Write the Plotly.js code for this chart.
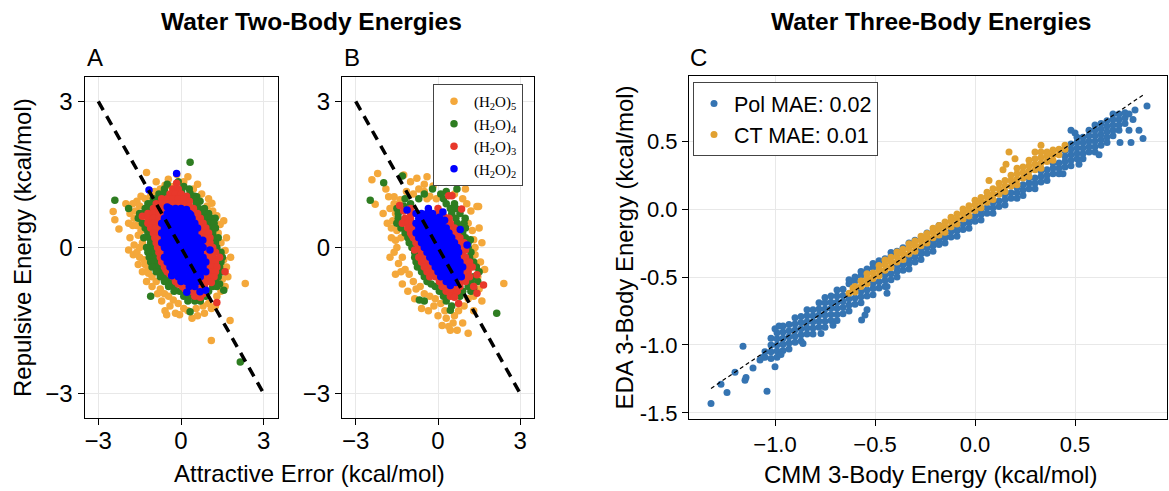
<!DOCTYPE html>
<html><head><meta charset="utf-8">
<script src="https://cdn.plot.ly/plotly-3.0.1.min.js"></script>
<style>html,body{margin:0;padding:0;background:#fff}#plot{width:1169px;height:491px}</style>
</head><body><div id="plot"></div>
<script>
// ---------- Panel A: (H2O)n two-body, points [attractive error, repulsive energy] ----------
const A2 = [
[-0.4,0.8],[-0.2,0.8],[0,0.8],[0.2,0.78],
[-0.5,0.7],[-0.3,0.7],[-0.1,0.7],[0.1,0.7],[0.3,0.7],
[-0.6,0.6],[-0.4,0.6],[-0.2,0.6],[0,0.6],[0.2,0.6],[0.4,0.6],
[-0.7,0.5],[-0.5,0.5],[-0.3,0.5],[-0.1,0.5],[0.1,0.5],[0.3,0.5],[0.5,0.5],
[-0.6,0.4],[-0.4,0.4],[-0.2,0.4],[0,0.4],[0.2,0.4],[0.4,0.4],[0.6,0.4],
[-0.7,0.3],[-0.5,0.3],[-0.3,0.3],[-0.1,0.3],[0.1,0.3],[0.3,0.3],[0.5,0.3],
[-0.6,0.2],[-0.4,0.2],[-0.2,0.2],[0,0.2],[0.2,0.2],[0.4,0.2],[0.6,0.2],
[-0.7,0.1],[-0.5,0.1],[-0.3,0.1],[-0.1,0.1],[0.1,0.1],[0.3,0.1],[0.5,0.1],[0.7,0.1],
[-0.6,0],[-0.4,0],[-0.2,0],[0,0],[0.2,0],[0.4,0],[0.6,0],[0.8,0],
[-0.5,-0.1],[-0.3,-0.1],[-0.1,-0.1],[0.1,-0.1],[0.3,-0.1],[0.5,-0.1],[0.7,-0.1],
[-0.6,-0.2],[-0.4,-0.2],[-0.2,-0.2],[0,-0.2],[0.2,-0.2],[0.4,-0.2],[0.6,-0.2],[0.8,-0.2],
[-0.5,-0.3],[-0.3,-0.3],[-0.1,-0.3],[0.1,-0.3],[0.3,-0.3],[0.5,-0.3],[0.7,-0.3],[0.9,-0.3],
[-0.4,-0.4],[-0.2,-0.4],[0,-0.4],[0.2,-0.4],[0.4,-0.4],[0.6,-0.4],[0.8,-0.4],
[-0.3,-0.5],[-0.1,-0.5],[0.1,-0.5],[0.3,-0.5],[0.5,-0.5],[0.7,-0.5],[0.9,-0.5],
[-0.1,-0.6],[0.1,-0.6],[0.3,-0.6],[0.5,-0.6],[0.7,-0.6],
[0,-0.7],[0.2,-0.7],[0.4,-0.7],[0.6,-0.7],
[0.3,-0.8],[0.5,-0.8],
[-0.16,1.52],[-1.16,1.18],[-0.5,0.83],[0.35,0.67],[0.79,0.15],[1.05,-0.05],[-0.34,-0.58],[0.21,-0.92],[0.69,-0.91],[0.9,-0.88]
];
const A3 = [
[-0.16,1.32],[-0.3,1.2],[-0.1,1.2],
[-0.4,1.1],[-0.2,1.1],[0,1.1],[0.2,1.05],
[-0.7,1.0],[-0.5,1.0],[-0.3,1.0],[-0.1,1.0],[0.1,1.0],[0.3,0.95],
[-0.9,0.9],[-0.7,0.9],[-0.5,0.9],[-0.3,0.9],[-0.1,0.9],[0.1,0.9],[0.3,0.85],
[-1.0,0.8],[-0.8,0.8],[-0.6,0.8],[0.3,0.8],[0.45,0.8],
[-1.2,0.7],[-1.0,0.7],[-0.8,0.7],[-0.65,0.7],[0.45,0.7],[0.6,0.7],
[-1.4,0.64],[-1.2,0.6],[-1.0,0.6],[-0.8,0.6],[0.55,0.6],[0.7,0.6],
[-1.2,0.5],[-1.0,0.5],[-0.85,0.5],[0.65,0.5],[0.8,0.5],
[-1.1,0.4],[-0.9,0.4],[-0.75,0.4],[0.75,0.4],[0.9,0.4],
[-1.0,0.3],[-0.85,0.3],[0.65,0.3],[0.85,0.3],[1.0,0.3],
[-0.95,0.2],[-0.8,0.2],[0.75,0.2],[0.9,0.2],[1.05,0.2],
[-0.9,0.1],[0.85,0.1],[1.05,0.1],
[-0.85,0.0],[-0.75,0.0],[0.95,0.0],[1.15,0.0],
[-0.8,-0.1],[-0.65,-0.1],[0.85,-0.1],[1.05,-0.1],[1.25,-0.1],
[-0.75,-0.2],[0.95,-0.2],[1.15,-0.2],[1.4,-0.2],
[-0.7,-0.3],[1.05,-0.3],[1.25,-0.3],
[-0.6,-0.4],[-0.55,-0.45],[0.95,-0.4],[1.15,-0.4],[1.3,-0.4],
[-0.5,-0.5],[-0.4,-0.55],[1.05,-0.5],[1.25,-0.5],[1.6,-0.5],
[-0.3,-0.6],[0.85,-0.6],[1.05,-0.6],[1.2,-0.6],
[-0.2,-0.7],[-0.1,-0.75],[0.75,-0.7],[0.95,-0.7],[1.1,-0.72],
[0.05,-0.8],[0.15,-0.85],[0.65,-0.8],[0.85,-0.8],
[0.25,-0.9],[0.4,-0.9],[0.6,-0.92],[0.8,-0.95],
[0.5,-1.0],[0.7,-1.02],[1.3,-1.13]
];
const A4 = [
[0.33,1.75],[-0.1,1.35],[-0.5,1.3],[0.1,1.25],
[-0.6,1.2],[0.3,1.2],[0.02,1.15],
[-0.8,1.1],[-0.6,1.1],[0.33,1.11],[0.5,1.05],
[-1.0,1.0],[-0.85,1.0],[0.57,1.04],[0.45,1.0],
[-2.4,0.97],[0.69,0.95],[-1.2,0.9],[-1.1,0.9],[0.55,0.9],
[-1.9,0.8],[-1.3,0.8],[-1.2,0.8],[0.65,0.8],[0.85,0.8],
[-1.5,0.7],[-1.4,0.7],[0.8,0.7],[1.0,0.7],
[-1.55,0.6],[0.9,0.6],[1.1,0.6],[1.24,0.6],
[-1.4,0.5],[-1.3,0.48],[1.0,0.5],[1.2,0.5],
[-1.3,0.4],[-1.2,0.35],[1.05,0.4],[1.25,0.4],
[-1.2,0.3],[1.15,0.3],
[-1.15,0.2],[-1.35,0.2],[1.2,0.2],[1.35,0.2],
[-1.1,0.1],[1.25,0.1],
[-1.05,0.0],[-1.25,0.0],[1.3,0.0],
[-1.0,-0.1],[-1.2,-0.1],[1.45,-0.1],
[-0.95,-0.2],[-1.15,-0.2],[1.5,-0.2],[1.3,-0.25],
[-0.9,-0.3],[-1.1,-0.3],[1.45,-0.3],
[-0.85,-0.4],[-1.05,-0.4],[1.4,-0.4],
[-0.7,-0.5],[-0.9,-0.5],[1.5,-0.5],
[-0.55,-0.6],[-0.75,-0.6],[1.35,-0.6],
[-0.4,-0.7],[-0.6,-0.7],[1.25,-0.7],[1.4,-0.75],
[-0.25,-0.8],[-0.45,-0.8],[1.15,-0.8],[1.3,-0.8],
[-0.05,-0.9],[-0.25,-0.9],[1.0,-0.9],[1.55,-0.88],
[0.1,-1.0],[0.3,-1.0],[0.9,-1.0],[-1.1,-1.0],
[0.25,-1.1],[0.5,-1.1],[0.7,-1.1],
[0.33,-1.32],[2.15,-2.35]
];
const A5 = [
[-1.25,1.54],[-0.46,1.4],[-0.58,1.28],[-0.35,1.25],[-0.75,1.2],[-0.95,1.15],[0.1,1.35],[0.25,1.45],[0.45,1.2],[0.75,1.1],[1.12,0.91],[0.95,0.85],
[-1.1,1.05],[-1.3,1.0],[-1.45,1.05],[-1.6,0.95],[-1.75,0.9],[-1.5,0.85],[-1.65,0.75],[-1.85,0.7],[-2.46,0.74],[-2.4,0.57],[-2.25,0.38],
[-1.7,0.6],[-1.6,0.45],[-1.75,0.45],[-1.45,0.35],[-1.55,0.25],[-1.4,0.1],[-1.5,0.0],[-1.7,0.05],[-1.73,-0.15],[-1.6,-0.1],[-1.5,-0.2],
[-1.35,-0.25],[-1.3,-0.35],[-1.2,-0.45],[-1.18,-0.53],[-1.05,-0.6],[-0.9,-0.7],[-0.75,-0.85],[-0.6,-0.95],[-0.45,-1.0],[-0.28,-1.08],
[-0.1,-1.15],[0.1,-1.25],[-0.2,-1.35],[-0.58,-1.3],[-0.52,-1.38],[0.4,-1.45],[0.55,-1.25],[0.8,-1.2],[1.0,-1.15],[1.1,-1.25],
[1.3,-1.0],[1.45,-0.9],[1.5,-0.65],[1.65,-0.4],[1.55,-0.25],[1.6,-0.06],[1.45,0.1],[1.35,0.3],[1.42,0.47],[1.3,0.65],[1.15,0.75],
[2.33,-0.74],[1.78,-1.5],[1.1,-1.91],
[-1.55,-0.35],[-1.4,-0.5],[-1.25,-0.7],[-1.05,-0.8],[-0.85,-0.95],[-0.7,-1.1],[-0.4,-1.2],[-0.05,-1.38],[0.25,-1.3],[0.6,-1.4],
[0.85,-1.35],[1.25,-1.2],[1.6,-0.8],[1.7,-0.6],[1.8,-0.2],[1.65,0.2],[1.55,0.55],[1.0,1.0],[0.6,1.3],[-0.15,1.5],[-0.9,1.35],
[-1.9,0.5],[-1.85,0.2],[-1.9,-0.05],[-1.45,0.6],[-2.0,0.9],[-1.35,0.45]
];
// ---------- Panel B ----------
const B2 = [
[-0.35,0.8],[0.18,0.73],[-1.13,0.77],[0.24,0.56],[0.81,0.37],[1.06,0.05],
[-0.8,0.7],[-0.6,0.7],[-0.4,0.7],[-0.2,0.7],
[-0.7,0.6],[-0.5,0.6],[-0.3,0.6],[-0.1,0.6],[0.05,0.62],
[-0.8,0.5],[-0.6,0.5],[-0.4,0.5],[-0.2,0.5],[0,0.5],[0.15,0.5],
[-0.7,0.4],[-0.5,0.4],[-0.3,0.4],[-0.1,0.4],[0.1,0.4],[0.3,0.4],
[-0.8,0.3],[-0.6,0.3],[-0.4,0.3],[-0.2,0.3],[0,0.3],[0.2,0.3],[0.4,0.3],
[-0.7,0.2],[-0.5,0.2],[-0.3,0.2],[-0.1,0.2],[0.1,0.2],[0.3,0.2],[0.5,0.2],
[-0.6,0.1],[-0.4,0.1],[-0.2,0.1],[0,0.1],[0.2,0.1],[0.4,0.1],[0.6,0.1],
[-0.5,0],[-0.3,0],[-0.1,0],[0.1,0],[0.3,0],[0.5,0],[0.7,0],
[-0.4,-0.1],[-0.2,-0.1],[0,-0.1],[0.2,-0.1],[0.4,-0.1],[0.6,-0.1],[0.75,-0.1],
[-0.3,-0.2],[-0.1,-0.2],[0.1,-0.2],[0.3,-0.2],[0.5,-0.2],[0.7,-0.2],
[-0.2,-0.3],[0,-0.3],[0.2,-0.3],[0.4,-0.3],[0.6,-0.3],[0.8,-0.3],
[-0.1,-0.4],[0.1,-0.4],[0.3,-0.4],[0.5,-0.4],[0.7,-0.4],[0.9,-0.4],
[0,-0.5],[0.2,-0.5],[0.4,-0.5],[0.6,-0.5],[0.8,-0.5],
[0.1,-0.6],[0.3,-0.6],[0.5,-0.6],[0.7,-0.6],[0.85,-0.6],
[0.3,-0.7],[0.5,-0.7],[0.65,-0.72],[0.45,-0.78]
];
const B3 = [
[0.39,1.06],[0.51,1.06],[-1.4,0.86],[0.86,0.79],
[-1.0,0.8],[0.0,0.8],[-1.25,0.75],
[-1.0,0.7],[0.0,0.7],[0.15,0.68],
[-1.2,0.6],[-1.0,0.6],[0.25,0.62],[0.4,0.6],
[-1.3,0.5],[-1.1,0.5],[-0.95,0.5],[0.3,0.5],[0.45,0.5],
[-1.1,0.4],[-0.9,0.4],[0.45,0.4],[0.6,0.4],
[-1.0,0.3],[-0.95,0.25],[0.55,0.3],[0.7,0.3],
[-0.9,0.2],[0.65,0.2],[0.8,0.2],
[-0.8,0.1],[0.75,0.1],[0.95,0.1],
[-0.7,0.0],[0.85,0.0],[-0.85,-0.05],
[-0.6,-0.1],[0.9,-0.1],[1.0,-0.05],
[-0.5,-0.2],[-0.7,-0.2],[0.85,-0.2],[1.0,-0.2],
[-0.4,-0.3],[-0.6,-0.3],[0.95,-0.3],[1.15,-0.3],
[-0.3,-0.4],[-0.5,-0.4],[1.05,-0.4],[1.25,-0.4],
[-0.2,-0.5],[-0.4,-0.5],[0.95,-0.5],[1.1,-0.5],[1.42,-0.56],
[-0.1,-0.6],[-0.3,-0.6],[0.95,-0.6],[1.15,-0.6],
[0.05,-0.7],[0.15,-0.72],[0.8,-0.7],[1.0,-0.7],[1.66,-0.77],
[0.15,-0.8],[0.3,-0.82],[0.6,-0.8],[0.8,-0.8],[1.3,-0.8],
[0.3,-0.9],[0.5,-0.9],[0.7,-0.9],[1.42,-0.94],
[0.45,-1.0],[0.6,-1.02],[0.75,-1.15]
];
const B4 = [
[-2.47,0.97],[-1.98,1.33],[-1.3,1.47],[0.02,1.37],[0.69,1.2],[0.99,0.6],[1.18,0.16],[2.14,-1.35],[-0.68,-1.08],[0.45,-1.29],[1.3,-0.84],
[-0.2,1.2],[0.3,1.15],[-0.5,1.1],[0.1,1.1],
[-1.2,1.0],[-0.7,1.0],[0.2,1.0],
[-1.0,0.9],[0.3,0.9],[0.6,0.9],
[-1.5,0.8],[-1.25,0.85],[0.45,0.8],[0.65,0.8],
[-1.45,0.7],[0.5,0.7],[0.8,0.7],
[-1.45,0.6],[0.65,0.6],
[-1.5,0.5],[0.7,0.5],[0.95,0.5],
[-1.35,0.4],[0.8,0.4],[1.0,0.4],
[-1.2,0.3],[0.9,0.3],
[-1.1,0.2],[1.0,0.2],
[-1.05,0.1],[1.1,0.1],
[-0.95,0.0],[1.1,0.0],
[-0.85,-0.1],[1.2,-0.1],
[-0.85,-0.2],[1.15,-0.2],
[-0.8,-0.3],[1.3,-0.3],
[-0.75,-0.4],[1.4,-0.4],
[-0.6,-0.5],[1.5,-0.5],
[-0.5,-0.6],[1.3,-0.6],
[-0.4,-0.7],[-0.25,-0.75],[1.2,-0.7],[1.45,-0.7],
[-0.1,-0.8],[1.1,-0.8],
[0.05,-0.9],[0.9,-0.9],[1.2,-0.9],
[0.2,-1.0],[0.6,-1.0],[0.8,-1.0],
[0.3,-1.1],[-0.5,-1.1],[0.5,-1.2]
];
const B5 = [
[0.02,1.76],[-2.2,1.52],[-2.41,1.39],[-1.25,1.49],[-0.77,1.42],[-0.18,1.26],[-0.5,1.3],[-1.0,1.35],
[1.48,0.84],[-2.29,0.89],[-1.8,1.04],[-1.6,1.04],[-1.38,0.98],[-0.7,1.2],[-0.5,1.15],[-0.3,1.05],[-0.06,1.0],[-0.4,1.0],[-0.9,1.1],[-1.15,1.15],
[-1.6,0.9],[-1.75,0.8],[-1.55,0.7],[-1.65,0.55],[-1.7,0.4],[-1.5,0.35],[-1.55,0.15],[-1.35,0.2],[-1.5,0.0],[-1.6,-0.1],[-1.44,-0.33],
[-1.3,-0.2],[-1.35,-0.5],[-1.2,-0.45],[-1.05,-0.55],[-0.9,-0.7],[-0.8,-0.85],[-0.65,-0.8],[-0.5,-0.95],[-0.3,-1.0],[-0.1,-1.05],
[0.1,-1.15],[-0.15,-1.2],[0.25,-1.3],[0.3,-1.45],[0.45,-1.7],[0.39,-1.62],[0.55,-1.55],[0.7,-1.7],[0.9,-1.55],[1.1,-1.76],
[0.6,-1.4],[0.75,-1.3],[0.95,-1.2],[1.1,-1.05],[1.3,-1.0],[1.5,-0.85],[2.4,-0.74],[1.45,-0.6],[1.55,-0.3],[1.35,-0.15],
[1.35,0.0],[1.3,0.16],[1.25,0.35],[1.1,0.5],[1.2,0.75],[1.42,0.84],[0.9,1.0],[1.05,0.9],[0.6,1.1],
[-1.7,0.2],[-1.75,-0.2],[-1.55,-0.55],[-1.3,-0.75],[-1.1,-0.9],[-0.85,-1.05],[-0.6,-1.25],[-0.35,-1.3],[0.0,-1.4],[0.15,-1.6],
[1.3,-1.3],[1.6,-1.1],[1.7,-0.45],[1.6,0.1],[1.5,0.4],[1.0,1.2],[0.3,1.4],[-0.4,1.45],[-1.9,1.2],[-2.0,0.7],[-1.85,0.5]
];
// ---------- Panel C: [CMM 3-body, EDA 3-body] ----------
const POL = [
[-1.05,-1.09],[-1.05,-1.05],
[-1.02,-1.10],[-1.02,-1.05],[-1.02,-1.00],[-1.02,-0.95],
[-0.99,-1.09],[-0.99,-1.045],[-0.99,-1.00],[-0.99,-0.955],[-0.99,-0.91],
[-0.96,-1.04],[-0.96,-0.995],[-0.96,-0.95],[-0.96,-0.905],[-0.96,-0.86],
[-0.93,-1.03],[-0.93,-0.985],[-0.93,-0.94],[-0.93,-0.895],[-0.93,-0.85],
[-0.90,-0.98],[-0.90,-0.935],[-0.90,-0.89],[-0.90,-0.845],[-0.90,-0.80],
[-0.87,-0.97],[-0.87,-0.925],[-0.87,-0.88],[-0.87,-0.835],[-0.87,-0.79],
[-0.84,-0.92],[-0.84,-0.875],[-0.84,-0.83],[-0.84,-0.785],[-0.84,-0.74],
[-0.81,-0.92],[-0.81,-0.875],[-0.81,-0.83],[-0.81,-0.785],[-0.81,-0.74],
[-0.78,-0.87],[-0.78,-0.825],[-0.78,-0.78],[-0.78,-0.735],[-0.78,-0.69],
[-0.75,-0.87],[-0.75,-0.825],[-0.75,-0.78],[-0.75,-0.735],[-0.75,-0.69],[-0.75,-0.65],
[-0.72,-0.82],[-0.72,-0.775],[-0.72,-0.73],[-0.72,-0.685],[-0.72,-0.64],
[-0.69,-0.82],[-0.69,-0.775],[-0.69,-0.73],[-0.69,-0.685],[-0.69,-0.64],[-0.69,-0.595],
[-0.66,-0.77],[-0.66,-0.725],[-0.66,-0.68],[-0.66,-0.635],[-0.66,-0.59],
[-0.63,-0.75],[-0.63,-0.705],[-0.63,-0.66],[-0.63,-0.55],[-0.63,-0.52],
[-0.60,-0.70],[-0.60,-0.655],[-0.60,-0.53],[-0.60,-0.50],
[-0.57,-0.69],[-0.57,-0.645],[-0.57,-0.605],[-0.57,-0.49],[-0.57,-0.46],
[-0.54,-0.64],[-0.54,-0.595],[-0.54,-0.47],[-0.54,-0.44],
[-0.51,-0.63],[-0.51,-0.585],[-0.51,-0.545],[-0.51,-0.43],[-0.51,-0.40],
[-0.48,-0.58],[-0.48,-0.535],[-0.48,-0.41],[-0.48,-0.38],
[-0.45,-0.57],[-0.45,-0.525],[-0.45,-0.485],[-0.45,-0.365],
[-0.42,-0.52],[-0.42,-0.475],[-0.42,-0.345],[-0.42,-0.32],
[-0.39,-0.50],[-0.39,-0.46],[-0.39,-0.425],[-0.39,-0.31],
[-0.36,-0.45],[-0.36,-0.41],[-0.36,-0.285],
[-0.33,-0.44],[-0.33,-0.40],[-0.33,-0.365],[-0.33,-0.25],
[-0.30,-0.39],[-0.30,-0.35],[-0.30,-0.23],
[-0.27,-0.37],[-0.27,-0.33],[-0.27,-0.30],
[-0.24,-0.325],[-0.24,-0.285],[-0.24,-0.175],
[-0.21,-0.31],[-0.21,-0.27],[-0.21,-0.24],
[-0.18,-0.26],[-0.18,-0.225],[-0.18,-0.12],
[-0.15,-0.25],[-0.15,-0.21],[-0.15,-0.18],
[-0.12,-0.205],[-0.12,-0.165],
[-0.09,-0.20],[-0.09,-0.16],[-0.09,-0.125],
[-0.06,-0.15],[-0.06,-0.11],
[-0.03,-0.14],[-0.03,-0.10],[-0.03,-0.065],
[0.00,-0.09],[0.00,-0.05],
[0.03,-0.08],[0.03,-0.04],[0.03,-0.005],
[0.06,-0.03],[0.06,0.01],
[0.09,-0.03],[0.09,0.01],[0.09,0.05],
[0.12,0.02],[0.12,0.06],
[0.15,0.03],[0.15,0.07],[0.15,0.11],
[0.18,0.08],[0.18,0.12],
[0.21,0.08],[0.21,0.12],[0.21,0.16],
[0.24,0.10],[0.24,0.14],[0.24,0.18],
[0.27,0.15],[0.27,0.19],[0.27,0.23],
[0.30,0.15],[0.30,0.19],[0.30,0.23],
[0.33,0.20],[0.33,0.24],[0.33,0.28],
[0.36,0.21],[0.36,0.25],[0.36,0.29],
[0.39,0.26],[0.39,0.30],[0.39,0.34],
[0.42,0.26],[0.42,0.30],[0.42,0.34],
[0.45,0.31],[0.45,0.35],[0.45,0.39],[0.45,0.43],
[0.48,0.32],[0.48,0.36],[0.48,0.40],[0.48,0.44],[0.48,0.48],
[0.51,0.37],[0.51,0.41],[0.51,0.45],[0.51,0.49],[0.51,0.53],
[0.54,0.37],[0.54,0.41],[0.54,0.45],[0.54,0.49],[0.54,0.53],
[0.57,0.42],[0.57,0.46],[0.57,0.50],[0.57,0.54],[0.57,0.58],
[0.60,0.42],[0.60,0.46],[0.60,0.50],[0.60,0.54],[0.60,0.58],[0.60,0.62],
[0.63,0.47],[0.63,0.51],[0.63,0.55],[0.63,0.59],[0.63,0.63],
[0.66,0.49],[0.66,0.53],[0.66,0.57],[0.66,0.61],[0.66,0.65],
[0.69,0.54],[0.69,0.58],[0.69,0.62],[0.69,0.66],[0.69,0.70],
[0.72,0.58],[0.72,0.62],[0.72,0.66],[0.72,0.70],
[0.75,0.63],[0.75,0.67],[0.75,0.71],
[-1.32,-1.43],[-1.24,-1.35],[-1.15,-1.26],[-1.04,-1.34],[-1.16,-1.01],[-1.145,-1.24],[-1.11,-1.17],[-1.075,-1.11],[-1.06,-1.09],
[-1.0,-1.16],[-0.97,-1.07],[-1.0,-0.88],[-0.98,-0.86],[-0.86,-0.99],[-0.77,-0.915],[-0.71,-0.855],[-0.567,-0.816],[-0.54,-0.74],
[-0.55,-0.78],[-0.44,-0.57],[-0.44,-0.62],[0.77,0.58],[0.82,0.58],[0.84,0.52],[0.78,0.49],[0.86,0.76],[0.725,0.49],[0.79,0.66],
[0.77,0.7],[0.8,0.73],[0.48,0.58],[0.5,0.56],[0.62,0.4],[0.52,0.33],[0.44,0.26],[-1.2,-1.2],[-1.27,-1.29]
];
const CT = [
[-0.63,-0.62],[-0.61,-0.58],[-0.60,-0.61],[-0.60,-0.57],[-0.57,-0.57],[-0.57,-0.53],
[-0.54,-0.55],[-0.54,-0.51],[-0.54,-0.475],[-0.51,-0.51],[-0.51,-0.47],
[-0.48,-0.49],[-0.48,-0.45],[-0.48,-0.415],[-0.45,-0.45],[-0.45,-0.41],[-0.45,-0.375],
[-0.42,-0.43],[-0.42,-0.39],[-0.42,-0.355],[-0.39,-0.39],[-0.39,-0.35],[-0.39,-0.315],
[-0.36,-0.37],[-0.36,-0.33],[-0.36,-0.295],[-0.33,-0.33],[-0.33,-0.29],[-0.33,-0.255],
[-0.30,-0.31],[-0.30,-0.27],[-0.30,-0.235],[-0.27,-0.27],[-0.27,-0.23],[-0.27,-0.20],
[-0.24,-0.25],[-0.24,-0.21],[-0.24,-0.18],[-0.21,-0.21],[-0.21,-0.17],[-0.21,-0.14],
[-0.18,-0.19],[-0.18,-0.15],[-0.18,-0.12],[-0.15,-0.17],[-0.15,-0.13],[-0.15,-0.095],
[-0.12,-0.13],[-0.12,-0.09],[-0.12,-0.06],[-0.09,-0.11],[-0.09,-0.07],[-0.09,-0.035],
[-0.06,-0.07],[-0.06,-0.03],[-0.06,0.0],[-0.03,-0.05],[-0.03,-0.01],[-0.03,0.025],
[0.00,-0.01],[0.00,0.03],[0.00,0.065],[0.03,0.01],[0.03,0.05],[0.03,0.085],
[0.06,0.05],[0.06,0.09],[0.06,0.125],[0.09,0.07],[0.09,0.11],[0.09,0.15],
[0.12,0.11],[0.12,0.15],[0.12,0.19],[0.15,0.13],[0.15,0.17],[0.15,0.21],
[0.18,0.17],[0.18,0.21],[0.18,0.25],[0.21,0.18],[0.21,0.22],[0.21,0.26],[0.21,0.30],
[0.24,0.23],[0.24,0.27],[0.24,0.31],[0.27,0.24],[0.27,0.28],[0.27,0.32],[0.27,0.36],
[0.30,0.29],[0.30,0.33],[0.30,0.37],[0.33,0.30],[0.33,0.34],[0.33,0.38],[0.33,0.42],
[0.36,0.35],[0.36,0.39],[0.36,0.42],[0.39,0.36],[0.39,0.40],[0.39,0.435],
[0.42,0.40],[0.42,0.44],[0.45,0.44],[0.45,0.47],
[0.14,0.29],[0.155,0.33],[0.17,0.42],[0.2,0.37],[0.3,0.42],[0.33,0.47],[0.07,0.21]
];
// reference lines
const diagAB_x = [-3, 3], diagAB_y = [3, -3];
const diagC = [-1.32, 0.85];
// ticks
const tickAB = [-3, 0, 3], tickABtext = ['\u22123', '0', '3'];
const tickCx = [-1, -0.5, 0, 0.5], tickCxText = ['\u22121.0', '\u22120.5', '0.0', '0.5'];
const tickCy = [-1.5, -1, -0.5, 0, 0.5], tickCyText = ['-1.5', '-1.0', '-0.5', '0.0', '0.5'];
// names
const nA = ['(H<sub>2</sub>O)<sub>5</sub>', '(H<sub>2</sub>O)<sub>4</sub>', '(H<sub>2</sub>O)<sub>3</sub>', '(H<sub>2</sub>O)<sub>2</sub>'];
const nC = ['Pol MAE: 0.02', 'CT MAE: 0.01'];

const colAB = ['#F4A83B', '#2E7D21', '#E8382B', '#0000FF'];
const colC = ['#3574B2', '#E1A131'];

const X = p => p.map(d => d[0]), Y = p => p.map(d => d[1]);
function pts(p, color, xa, ya, name, legend, show, size) {
  return {type: 'scatter', mode: 'markers', x: X(p), y: Y(p), xaxis: xa, yaxis: ya, name: name,
    legend: legend, showlegend: show, marker: {color: color, size: size, line: {width: 0}}, hoverinfo: 'skip'};
}
const traces = [];
[A5, A4, A3, A2].forEach((p, i) => traces.push(pts(p, colAB[i], 'x', 'y', nA[i], 'legend', false, 7.5)));
traces.push({type: 'scatter', mode: 'lines', x: diagAB_x, y: diagAB_y, xaxis: 'x', yaxis: 'y', showlegend: false,
  line: {color: '#000', width: 3.5, dash: '10px,7px'}, hoverinfo: 'skip'});
[B5, B4, B3, B2].forEach((p, i) => traces.push(pts(p, colAB[i], 'x2', 'y2', nA[i], 'legend', true, 7.5)));
traces.push({type: 'scatter', mode: 'lines', x: diagAB_x, y: diagAB_y, xaxis: 'x2', yaxis: 'y2', showlegend: false,
  line: {color: '#000', width: 3.5, dash: '10px,7px'}, hoverinfo: 'skip'});
traces.push(pts(POL, colC[0], 'x3', 'y3', nC[0], 'legend2', true, 7));
traces.push(pts(CT, colC[1], 'x3', 'y3', nC[1], 'legend2', true, 7));
traces.push({type: 'scatter', mode: 'lines', x: diagC, y: diagC, xaxis: 'x3', yaxis: 'y3', showlegend: false,
  line: {color: '#000', width: 1.2, dash: '4px,3px'}, hoverinfo: 'skip'});

const W = 1169, H = 491;
const px = v => v / W, py = v => 1 - v / H;
const base = {showline: true, mirror: true, linecolor: '#000', linewidth: 1, ticks: 'outside', ticklen: 6,
  tickcolor: '#000', tickwidth: 1, showgrid: true, gridcolor: '#e8e8e8', gridwidth: 1, zeroline: false,
  tickfont: {size: 24, color: '#000'}, automargin: false, fixedrange: true, tickmode: 'array'};
const ab = Object.assign({}, base, {range: [-3.5, 3.5], tickvals: tickAB, ticktext: tickABtext});
const font = 'Liberation Sans, Arial, Helvetica, sans-serif';

const layout = {
  width: W, height: H, margin: {l: 0, r: 0, t: 0, b: 0}, paper_bgcolor: '#fff', plot_bgcolor: '#fff',
  font: {family: font, color: '#000'},
  xaxis: Object.assign({}, ab, {domain: [px(84.5), px(277.5)], anchor: 'y', ticklabelstandoff: -5}),
  yaxis: Object.assign({}, ab, {domain: [py(418), py(77)], anchor: 'x'}),
  xaxis2: Object.assign({}, ab, {domain: [px(342), px(534)], anchor: 'y2', ticklabelstandoff: -5}),
  yaxis2: Object.assign({}, ab, {domain: [py(418), py(77)], anchor: 'x2'}),
  xaxis3: Object.assign({}, base, {domain: [px(689), px(1167)], anchor: 'y3', range: [-1.43, 0.96],
    tickvals: tickCx, ticktext: tickCxText, tickfont: {size: 22, color: '#000'}}),
  yaxis3: Object.assign({}, base, {domain: [py(419), py(76)], anchor: 'x3', range: [-1.545, 0.98],
    tickvals: tickCy, ticktext: tickCyText, tickfont: {size: 22, color: '#000'}}),
  legend: {x: px(433), y: py(84), xanchor: 'left', yanchor: 'top', bgcolor: '#fff', bordercolor: '#444', borderwidth: 1,
    font: {family: 'Liberation Serif, DejaVu Serif, serif', size: 15, color: '#000'}, itemwidth: 30, tracegroupgap: 0},
  legend2: {x: px(693), y: py(82), xanchor: 'left', yanchor: 'top', bgcolor: '#fff', bordercolor: '#444', borderwidth: 1,
    font: {family: font, size: 21.5, color: '#000'}, itemwidth: 30, tracegroupgap: 0},
  annotations: [
    {text: '<b>Water Two-Body Energies</b>', x: px(311), y: py(21), xref: 'paper', yref: 'paper', showarrow: false, xanchor: 'center', yanchor: 'middle', font: {size: 24.5}},
    {text: '<b>Water Three-Body Energies</b>', x: px(931), y: py(21), xref: 'paper', yref: 'paper', showarrow: false, xanchor: 'center', yanchor: 'middle', font: {size: 24.5}},
    {text: 'A', x: px(85), y: py(58), xref: 'paper', yref: 'paper', showarrow: false, xanchor: 'left', yanchor: 'middle', font: {size: 24}},
    {text: 'B', x: px(342), y: py(58), xref: 'paper', yref: 'paper', showarrow: false, xanchor: 'left', yanchor: 'middle', font: {size: 24}},
    {text: 'C', x: px(688), y: py(58), xref: 'paper', yref: 'paper', showarrow: false, xanchor: 'left', yanchor: 'middle', font: {size: 24}},
    {text: 'Attractive Error (kcal/mol)', x: px(309), y: py(473), xref: 'paper', yref: 'paper', showarrow: false, xanchor: 'center', yanchor: 'middle', font: {size: 24}},
    {text: 'CMM 3-Body Energy (kcal/mol)', x: px(931), y: py(474), xref: 'paper', yref: 'paper', showarrow: false, xanchor: 'center', yanchor: 'middle', font: {size: 24}},
    {text: 'Repulsive Energy (kcal/mol)', x: px(22), y: py(248), xref: 'paper', yref: 'paper', showarrow: false, xanchor: 'center', yanchor: 'middle', textangle: -90, font: {size: 24}},
    {text: 'EDA 3-Body Energy (kcal/mol)', x: px(624), y: py(247.5), xref: 'paper', yref: 'paper', showarrow: false, xanchor: 'center', yanchor: 'middle', textangle: -90, font: {size: 24}}
  ]
};
Plotly.newPlot('plot', traces, layout, {displayModeBar: false, staticPlot: true});
</script></body></html>
